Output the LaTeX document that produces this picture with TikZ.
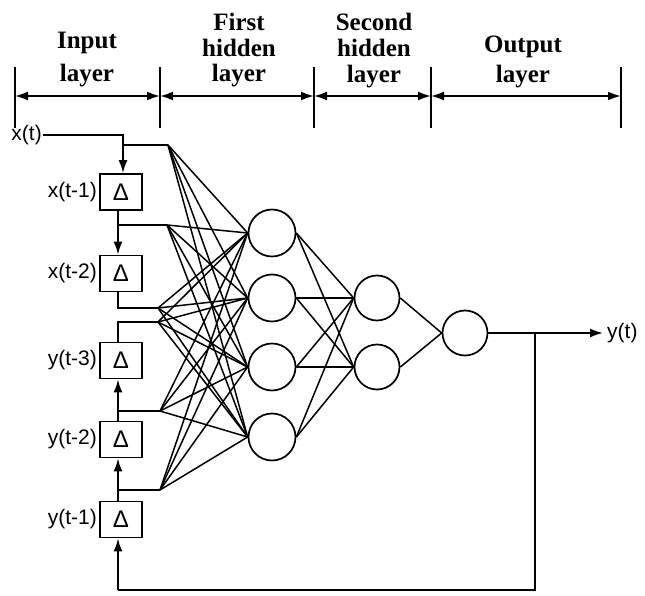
\documentclass[tikz,border=0pt]{standalone}
\usepackage{fontspec}
\newfontfamily\hdfont{Liberation Serif}
\newfontfamily\labfont{Liberation Sans}
\usetikzlibrary{arrows.meta}
\begin{document}
\begin{tikzpicture}[x=1pt,y=-1pt,
  hd/.style={font=\hdfont\bfseries\fontsize{25}{28}\selectfont, anchor=base, inner sep=0pt},
  lab/.style={font=\labfont\fontsize{21}{24}\selectfont, anchor=east, inner sep=1pt},
  dbox/.style={draw, line width=1.8pt, minimum width=42pt, minimum height=36pt, inner sep=0pt, font=\labfont\fontsize{24}{26}\selectfont},
  neuron/.style={draw, circle, line width=1.7pt, minimum size=47pt, inner sep=0pt},
  wire/.style={line width=1.8pt},
  syn/.style={line width=1.5pt},
  tick/.style={line width=1.4pt},
  dim/.style={line width=2pt, {Latex[length=13pt,width=9pt]}-{Latex[length=13pt,width=9pt]}},
  arr/.style={wire, -{Latex[length=13pt,width=9pt]}}
]
\useasboundingbox (0,0) rectangle (645,596);

% ---------- header ----------
\foreach \n/\x in {a/15,b/160,c/314,d/431,e/621}{
  \coordinate (t\n-top) at (\x,67);
  \coordinate (t\n-bot) at (\x,128);
  \coordinate (t\n-mid) at (\x,96);
  \draw[tick] (t\n-top) -- (t\n-bot);
}
\draw[dim] (ta-mid) -- (tb-mid);
\draw[dim] (tb-mid) -- (tc-mid);
\draw[dim] (tc-mid) -- (td-mid);
\draw[dim] (td-mid) -- (te-mid);

\node[hd] (in1) at (87,49) {Input};
\node[hd] (in2) at (87,82) {layer};
\node[hd] (fh1) at (239,31) {First};
\node[hd] (fh2) at (239,57) {hidden};
\node[hd] (fh3) at (239,82) {layer};
\node[hd] (sh1) at (374,31) {Second};
\node[hd] (sh2) at (374,57) {hidden};
\node[hd] (sh3) at (374,83) {layer};
\node[hd] (ou1) at (523,53) {Output};
\node[hd] (ou2) at (523,83) {layer};

% ---------- delay boxes ----------
\node[dbox] (d1) at (121,192) {Δ};
\node[dbox] (d2) at (121,273.5) {Δ};
\node[dbox] (d3) at (121,360.5) {Δ};
\node[dbox] (d4) at (121,439.5) {Δ};
\node[dbox] (d5) at (121,519.5) {Δ};

\node[lab] (xt) at (43,135) {x(t)};
\node[lab] (l1) at (98,192) {x(t-1)};
\node[lab] (l2) at (98,273.5) {x(t-2)};
\node[lab] (l3) at (98,360.5) {y(t-3)};
\node[lab] (l4) at (98,439.5) {y(t-2)};
\node[lab] (l5) at (98,519.5) {y(t-1)};

% ---------- neurons ----------
\node[neuron] (h1) at (272,233) {};
\node[neuron] (h2) at (272,298) {};
\node[neuron] (h3) at (272,367) {};
\node[neuron] (h4) at (272,437) {};
\node[neuron, minimum size=45pt] (s1) at (377,298) {};
\node[neuron, minimum size=45pt] (s2) at (377,367) {};
\node[neuron, minimum size=45pt] (o) at (465,333) {};

% ---------- tapped delay line ----------
\coordinate (c0) at (123,135);
\coordinate (b0) at (123,145);
\coordinate (f1) at (168,145);
\draw[wire] (xt.east) -- (c0) -- (b0);
\draw[arr] (b0) -- (b0 |- d1.north);
\draw[wire] (b0) -- (f1);

\coordinate (b1) at (118,225);
\coordinate (f2) at (167,225);
\draw[arr] (d1.south -| b1) -- (d2.north -| b1);
\draw[wire] (b1) -- (f2);

\coordinate (b2) at (118,308);
\coordinate (f3) at (158,308);
\draw[wire] (d2.south -| b2) -- (b2) -- (f3);

\coordinate (b3) at (118,322);
\coordinate (f4) at (158,322);
\draw[wire] (d3.north -| b3) -- (b3) -- (f4);

\coordinate (b4) at (118,411);
\coordinate (f5) at (160,411);
\draw[arr] (d4.north -| b4) -- (d3.south -| b4);
\draw[wire] (b4) -- (f5);

\coordinate (b5) at (118,490);
\coordinate (f6) at (160,490);
\draw[arr] (d5.north -| b5) -- (d4.south -| b5);
\draw[wire] (b5) -- (f6);

% ---------- synapses ----------
\foreach \f in {f1,f2,f3,f4,f5,f6}{
  \foreach \h in {h1,h2,h3,h4}{
    \draw[syn] (\f) -- (\h.west);
  }
}
\foreach \h in {h1,h2,h3,h4}{
  \foreach \s in {s1,s2}{
    \draw[syn] (\h.east) -- (\s.west);
  }
}
\draw[syn] (s1.east) -- (o.west);
\draw[syn] (s2.east) -- (o.west);

% ---------- output and feedback ----------
\coordinate (fb) at (535,333);
\coordinate (yend) at (603,333);
\coordinate (fb1) at (535,590);
\coordinate (fb2) at (118,590);
\draw[wire] (o.east) -- (fb);
\draw[arr] (fb) -- (yend);
\node[lab, anchor=west] (yt) at (606,333) {y(t)};
\draw[wire] (fb) -- (fb1) -- (fb2);
\draw[arr] (fb2) -- (d5.south -| fb2);
\end{tikzpicture}
\end{document}
